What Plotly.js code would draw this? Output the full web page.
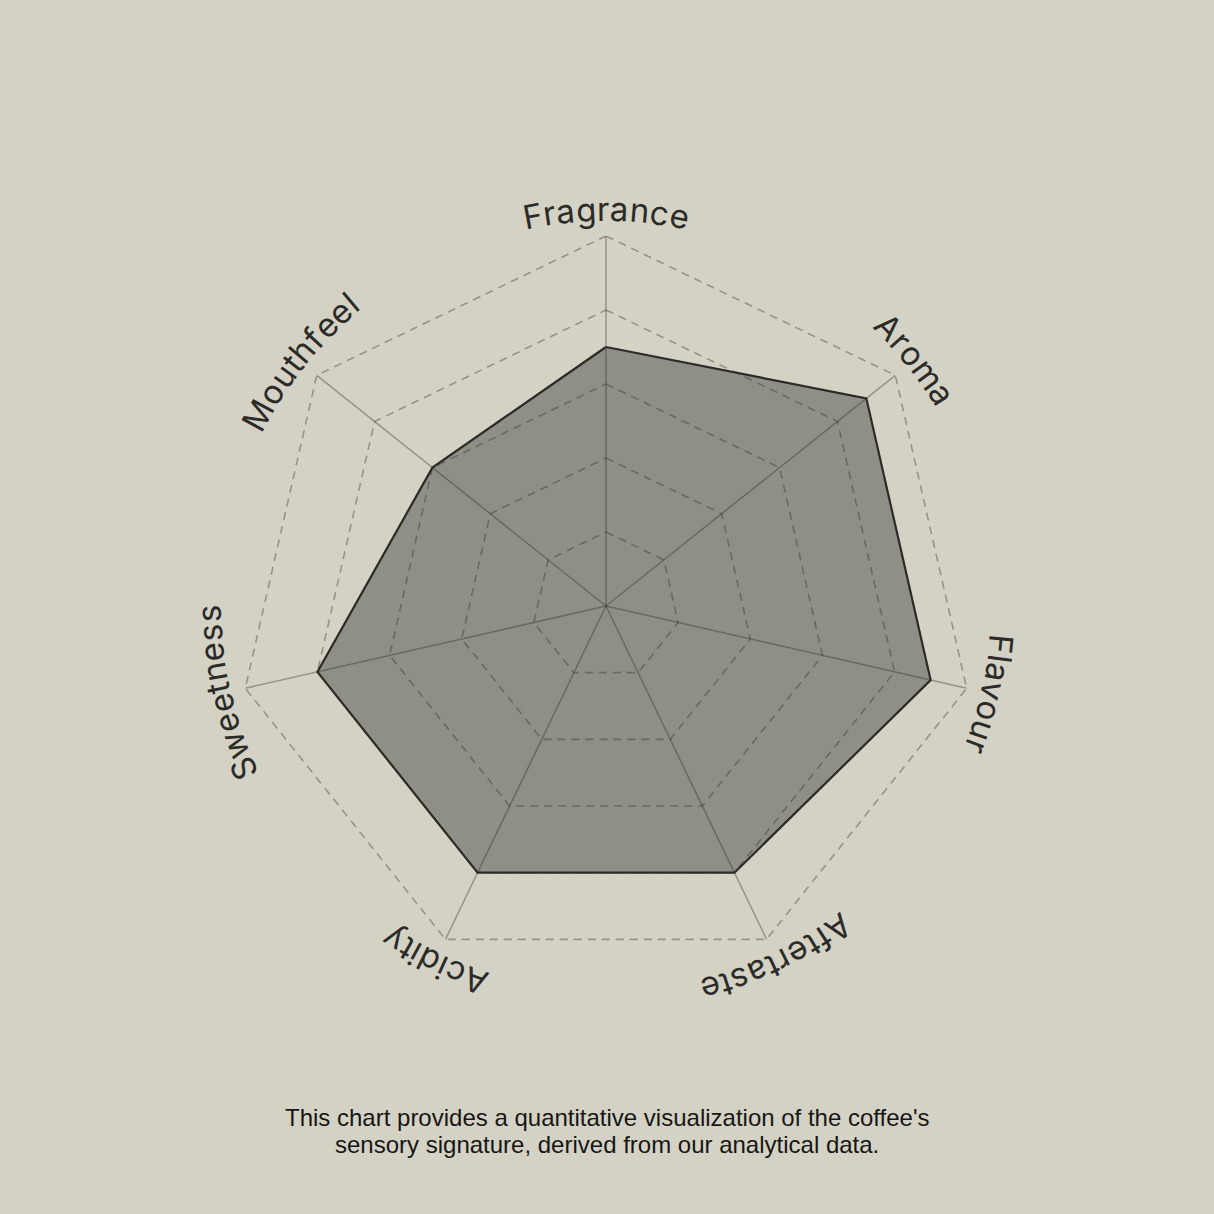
<!DOCTYPE html>
<html>
<head>
<meta charset="utf-8">
<script src="https://cdn.plot.ly/plotly-3.0.1.min.js"></script>
<style>
  html, body { margin: 0; padding: 0; background: #d4d2c5; }
  #chart { width: 1214px; height: 1214px; }
</style>
</head>
<body>
<div id="chart"></div>
<script>
// data
const categories = ['Fragrance', 'Aroma', 'Flavour', 'Aftertaste', 'Acidity', 'Sweetness', 'Mouthfeel'];
const scores = [7, 9, 9, 8, 8, 8, 6];
const ringValues = [2, 4, 6, 8, 10];
const captionLines = [
    "This chart provides a quantitative visualization of the coffee's",
    'sensory signature, derived from our analytical data.'
];

// geometry (pixels)
const W = 1214, H = 1214;
const CX = 606, CY = 606, RADIUS = 370;
const LABEL_R = 397;
const LABEL_FONT = 'Inter';
const LABEL_SIZE = 33;
const LETTER_GAP = 1;
const CAPTION_Y = [1117, 1144];

const BG = '#d4d2c5';
const INK = '#2b2b28';
const GRID = 'rgba(40,40,36,0.36)';

function closed(arr) { return arr.concat([arr[0]]); }

const traces = [];

// filled area
traces.push({
    type: 'scatterpolar', mode: 'lines',
    r: closed(scores), theta: closed(categories),
    fill: 'toself', fillcolor: 'rgb(143,143,135)',
    line: { width: 0 }, hoverinfo: 'skip'
});

// dashed rings on top of the fill
ringValues.forEach(v => {
    traces.push({
        type: 'scatterpolar', mode: 'lines',
        r: closed(categories.map(() => v)), theta: closed(categories),
        line: { color: GRID, width: 1.6, dash: '8px,6px' }, hoverinfo: 'skip'
    });
});

// spokes
const spokeR = [], spokeT = [];
categories.forEach(c => {
    spokeR.push(0, ringValues[ringValues.length - 1], null);
    spokeT.push(c, c, c);
});
traces.push({
    type: 'scatterpolar', mode: 'lines', r: spokeR, theta: spokeT,
    connectgaps: false, line: { color: GRID, width: 1.5 }, hoverinfo: 'skip'
});

// outline
traces.push({
    type: 'scatterpolar', mode: 'lines',
    r: closed(scores), theta: closed(categories),
    line: { color: INK, width: 2.2 }, hoverinfo: 'skip'
});

// curved labels, one annotation per letter
const ctx = document.createElement('canvas').getContext('2d');
ctx.font = '400 ' + LABEL_SIZE + 'px ' + LABEL_FONT;

function arcLabel(word, phiDeg) {
    const chars = [...word];
    const widths = chars.map(ch => ctx.measureText(ch).width);
    const total = widths.reduce((a, b) => a + b, 0) + LETTER_GAP * (chars.length - 1);
    let s = -total / 2;
    return chars.map((ch, k) => {
        const mid = s + widths[k] / 2;
        s += widths[k] + LETTER_GAP;
        const phi = phiDeg * Math.PI / 180 - mid / LABEL_R;
        const px = CX + LABEL_R * Math.cos(phi);
        const py = CY - LABEL_R * Math.sin(phi);
        return {
            text: ch, x: px / W, y: 1 - py / H, xref: 'paper', yref: 'paper',
            xanchor: 'center', yanchor: 'middle', showarrow: false,
            textangle: 90 - phi * 180 / Math.PI,
            font: { family: LABEL_FONT, size: LABEL_SIZE, color: INK }
        };
    });
}

let annotations = [];
categories.forEach((c, i) => {
    annotations = annotations.concat(arcLabel(c, 90 - i * 360 / categories.length));
});

captionLines.forEach((line, k) => {
    annotations.push({
        text: line, x: 0.5, y: 1 - CAPTION_Y[k] / H,
        xref: 'paper', yref: 'paper', xanchor: 'center', yanchor: 'middle',
        showarrow: false, align: 'center',
        font: { family: 'Liberation Sans, Arial, sans-serif', size: 24, color: '#161615' }
    });
});

const layout = {
    width: W, height: H,
    margin: { l: 0, r: 0, t: 0, b: 0 },
    paper_bgcolor: BG, plot_bgcolor: BG,
    showlegend: false,
    polar: {
        domain: { x: [(CX - RADIUS) / W, (CX + RADIUS) / W], y: [(H - CY - RADIUS) / H, (H - CY + RADIUS) / H] },
        bgcolor: 'rgba(0,0,0,0)',
        radialaxis: { range: [0, 10], visible: false, showgrid: false },
        angularaxis: { direction: 'clockwise', rotation: 90, visible: false, showgrid: false, categoryarray: categories }
    },
    annotations: annotations
};

Plotly.newPlot('chart', traces, layout, { displayModeBar: false, staticPlot: true });
</script>
</body>
</html>
